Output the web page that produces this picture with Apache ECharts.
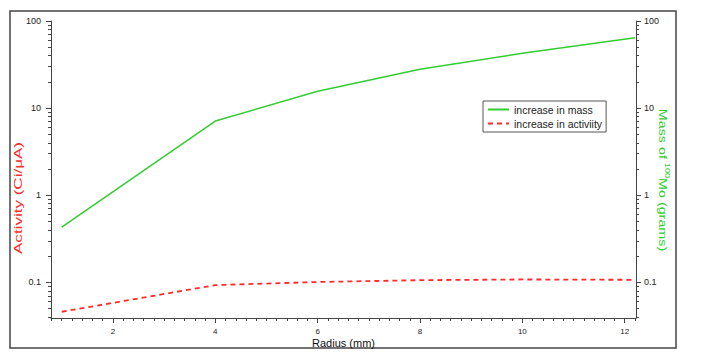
<!DOCTYPE html>
<html>
<head>
<meta charset="utf-8">
<script src="https://cdn.jsdelivr.net/npm/echarts@6/dist/echarts.min.js"></script>
<style>
  html, body { margin: 0; padding: 0; background: #fff; }
  #chart { width: 702px; height: 354px; }
</style>
</head>
<body>
<div id="chart"></div>
<script>
// data
const radius = [1, 4, 6, 8, 10, 12.2];
const massGrams = [0.43, 7.1, 15.6, 27.9, 42.6, 64.4];
const activity = [0.046, 0.093, 0.101, 0.106, 0.108, 0.107];

// axis ticks
const xMajorTicks = [2, 4, 6, 8, 10, 12];
const xMinorTicks = [0.8, 1, 1.2, 1.4, 1.6, 1.8, 2, 2.2, 2.4, 2.6, 2.8, 3, 3.2, 3.4, 3.6, 3.8,
  4, 4.2, 4.4, 4.6, 4.8, 5, 5.2, 5.4, 5.6, 5.8, 6, 6.2, 6.4, 6.6, 6.8, 7, 7.2, 7.4, 7.6, 7.8,
  8, 8.2, 8.4, 8.6, 8.8, 9, 9.2, 9.4, 9.6, 9.8, 10, 10.2, 10.4, 10.6, 10.8, 11, 11.2, 11.4,
  11.6, 11.8, 12, 12.2];
const yMajorTicks = [0.1, 1, 10, 100];
const yMinorTicks = [0.04, 0.05, 0.06, 0.07, 0.08, 0.09, 0.2, 0.3, 0.4, 0.5, 0.6, 0.7, 0.8, 0.9,
  2, 3, 4, 5, 6, 7, 8, 9, 20, 30, 40, 50, 60, 70, 80, 90];

const xMin = 0.79, xMax = 12.22;
const yMin = 0.039, yMax = 100;
const axisColor = "#444";
const font = "Liberation Sans";

function yAxisDef(position, major) {
  return {
    type: "log",
    logBase: 10,
    min: yMin,
    max: yMax,
    position: position,
    offset: 0,
    splitLine: { show: false },
    axisLine: { show: major, lineStyle: { color: axisColor, width: 1 } },
    axisTick: {
      show: true,
      inside: false,
      length: major ? 5 : 3,
      customValues: major ? yMajorTicks : yMinorTicks,
      lineStyle: { color: axisColor, width: 1 },
    },
    axisLabel: major
      ? {
          show: true,
          customValues: yMajorTicks,
          fontSize: 9,
          fontFamily: font,
          color: "#222",
          margin: position === "left" ? 10 : 8,
          formatter: (v) => String(+v.toPrecision(3)),
        }
      : { show: false },
  };
}

const option = {
  animation: false,
  grid: {
    left: 51,
    right: 66,
    top: 21,
    bottom: 36,
    containLabel: false,
    outerBoundsMode: "none",
  },
  legend: {
    orient: "vertical",
    left: 483,
    top: 101,
    padding: [3, 4, 3, 4],
    itemWidth: 21,
    itemHeight: 10,
    itemGap: 3,
    borderColor: "#555",
    borderWidth: 1,
    backgroundColor: "#fff",
    itemStyle: { opacity: 0 },
    textStyle: { fontSize: 10.5, fontFamily: font, color: "#222" },
    data: ["increase in mass", "increase in activiity"],
  },
  xAxis: [
    {
      type: "value",
      min: xMin,
      max: xMax,
      splitLine: { show: false },
      axisLine: { lineStyle: { color: axisColor, width: 1 } },
      axisTick: { length: 3, customValues: xMinorTicks, lineStyle: { color: axisColor } },
      axisLabel: { show: false },
    },
    {
      type: "value",
      min: xMin,
      max: xMax,
      position: "bottom",
      offset: 0,
      splitLine: { show: false },
      axisLine: { show: false },
      axisTick: { length: 5, customValues: xMajorTicks, lineStyle: { color: axisColor } },
      axisLabel: {
        customValues: xMajorTicks,
        fontSize: 8,
        fontFamily: font,
        color: "#222",
        margin: 9,
      },
      name: "Radius (mm)",
      nameLocation: "middle",
      nameGap: 19,
      nameMoveOverlap: false,
      nameTextStyle: { fontSize: 11, fontFamily: font, color: "#111" },
    },
  ],
  yAxis: [
    yAxisDef("left", true),
    yAxisDef("left", false),
    yAxisDef("right", true),
    yAxisDef("right", false),
  ],
  graphic: [
    {
      type: "rect",
      z: -1,
      shape: { x: 10, y: 11, width: 666, height: 337 },
      style: { fill: "none", stroke: "#444", lineWidth: 1.5 },
    },
    {
      type: "text",
      x: 18.5,
      y: 198,
      rotation: Math.PI / 2,
      scaleX: 1.55,
      style: {
        text: "Activity (Ci/\u03bcA)",
        font: "11px " + font,
        fill: "#ff2a2a",
        align: "center",
        verticalAlign: "middle",
      },
    },
    {
      type: "text",
      x: 664,
      y: 180,
      rotation: -Math.PI / 2,
      scaleX: 1.3,
      style: {
        text: "{a|Mass of }{s|100}{a|Mo (grams)}",
        align: "center",
        verticalAlign: "middle",
        rich: {
          a: { fontSize: 11, fontFamily: font, fill: "#2ecc2e", lineHeight: 14, verticalAlign: "bottom" },
          s: { fontSize: 7, fontFamily: font, fill: "#2ecc2e", lineHeight: 14, verticalAlign: "top" },
        },
      },
    },
  ],
  series: [
    {
      name: "increase in mass",
      type: "line",
      xAxisIndex: 0,
      yAxisIndex: 2,
      symbol: "none",
      color: "#33cc33",
      lineStyle: { width: 1.5, color: "#33cc33" },
      data: radius.map((r, i) => [r, massGrams[i]]),
    },
    {
      name: "increase in activiity",
      type: "line",
      xAxisIndex: 0,
      yAxisIndex: 0,
      symbol: "none",
      color: "#ff2a2a",
      lineStyle: { width: 1.8, type: [5, 4], color: "#ff2a2a" },
      data: radius.map((r, i) => [r, activity[i]]),
    },
  ],
};

const chart = echarts.init(document.getElementById("chart"), null, { renderer: "svg" });
chart.setOption(option);
</script>
</body>
</html>
